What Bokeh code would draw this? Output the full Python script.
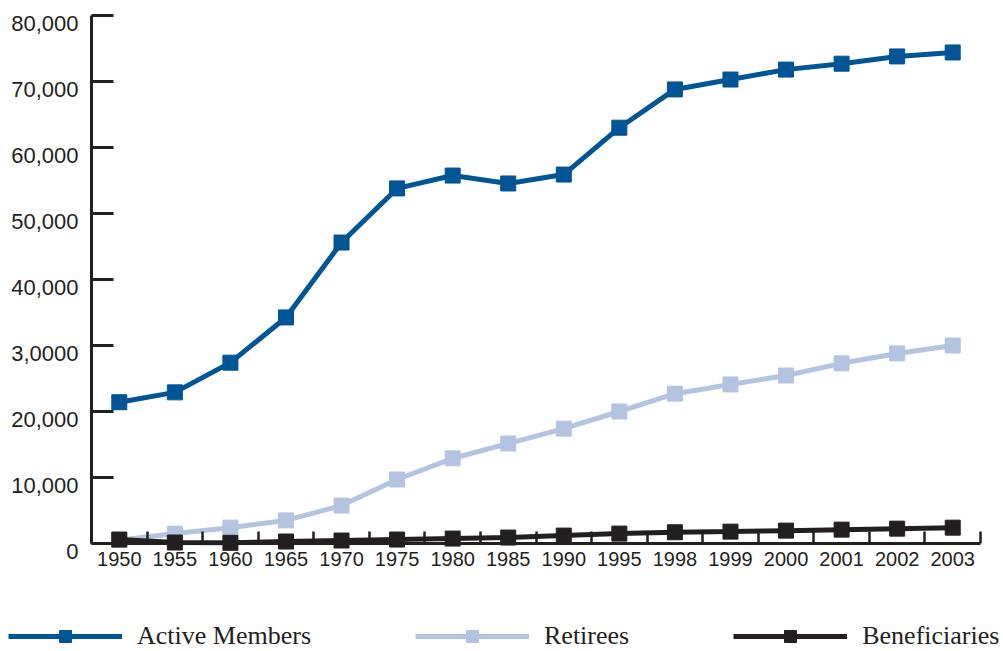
from bokeh.plotting import figure
from bokeh.models import FixedTicker, Legend, LegendItem, Range1d, LinearAxis
from bokeh.embed import file_html
from bokeh.resources import INLINE

# ---- data ----
years = ["1950", "1955", "1960", "1965", "1970", "1975", "1980", "1985",
         "1990", "1995", "1998", "1999", "2000", "2001", "2002", "2003"]
active_members = [21400, 22900, 27400, 34250, 45600, 53800, 55750, 54550,
                  55900, 63000, 68800, 70300, 71800, 72700, 73800, 74400]
retirees = [500, 1500, 2400, 3500, 5750, 9700, 12900, 15150,
            17400, 20000, 22700, 24100, 25450, 27300, 28800, 30000]
beneficiaries = [600, 150, 100, 300, 450, 600, 750, 900,
                 1200, 1500, 1700, 1800, 1950, 2100, 2250, 2400]
y_ticks = [0, 10000, 20000, 30000, 40000, 50000, 60000, 70000, 80000]
y_tick_labels = ["0", "10,000", "20,000", "3,0000", "40,000", "50,000",
                 "60,000", "70,000", "80,000"]
series_names = ["Active Members", "Retirees", "Beneficiaries"]
series_colors = ["#005596", "#b4c4e0", "#231f20"]

x = list(range(len(years)))
ink = "#231f20"

# ---- layout (pixels) ----
W, H = 1003, 651
ax_left, ax_right, ax_top, ax_bottom = 91, 980, 15, 543
label_drop = 8          # y tick labels sit slightly below their ticks
y_min, y_max = y_ticks[0], y_ticks[-1]
x_lo, x_hi = -0.5, len(years) - 0.5
ux = (ax_right - ax_left) / (x_hi - x_lo)      # px per category
uy = (ax_bottom - ax_top) / (y_max - y_min)    # px per unit value

y_start = y_min - (H - ax_bottom) / uy
y_end = y_max + ax_top / uy
p = figure(width=W, height=H, output_backend="svg", toolbar_location=None,
           x_range=Range1d(x_lo - ax_left / ux, x_hi + (W - ax_right) / ux),
           y_range=Range1d(y_start, y_end),
           min_border=0)
p.extra_y_ranges = {"ylabels": Range1d(y_start + label_drop / uy, y_end + label_drop / uy)}
p.outline_line_color = None
p.grid.visible = False
p.background_fill_color = "white"
p.border_fill_color = "white"

# x axis
xa = p.xaxis[0]
xa.fixed_location = y_min
xa.bounds = (x_lo, x_hi)
xa.ticker = FixedTicker(ticks=x, minor_ticks=[i - 0.5 for i in range(len(years) + 1)])
xa.major_label_overrides = {i: y for i, y in zip(x, years)}
xa.major_tick_in = 0
xa.major_tick_out = 0
xa.minor_tick_in = 12
xa.minor_tick_out = 0
xa.minor_tick_line_width = 2.5
xa.minor_tick_line_color = ink
xa.axis_line_width = 3
xa.axis_line_color = ink
xa.major_label_text_font = "Liberation Sans"
xa.major_label_text_font_size = "20px"
xa.major_label_text_color = ink
xa.major_label_standoff = 8

# y axis: line and ticks
ya = p.yaxis[0]
ya.fixed_location = x_lo
ya.bounds = (y_min, y_max)
ya.ticker = FixedTicker(ticks=y_ticks, minor_ticks=[])
ya.major_label_overrides = {t: "" for t in y_ticks}
ya.major_tick_in = 22
ya.major_tick_out = 0
ya.major_tick_line_width = 3
ya.major_tick_line_color = ink
ya.axis_line_width = 3
ya.axis_line_color = ink

# y axis: tick labels (same ticks, drawn a little lower)
yl = LinearAxis(y_range_name="ylabels", fixed_location=x_lo, bounds=(y_min, y_max),
                ticker=FixedTicker(ticks=y_ticks, minor_ticks=[]),
                major_label_overrides={t: l for t, l in zip(y_ticks, y_tick_labels)},
                axis_line_color=None, major_tick_line_color=None,
                minor_tick_line_color=None, major_tick_in=0, major_tick_out=0,
                major_label_text_font="Liberation Sans",
                major_label_text_font_size="22px",
                major_label_text_color=ink, major_label_standoff=13)
p.add_layout(yl, "left")

items = []
for name, vals, col in zip(series_names, [active_members, retirees, beneficiaries], series_colors):
    r1 = p.line(x, vals, line_color=col, line_width=5)
    r2 = p.scatter(x, vals, marker="square", size=15, fill_color=col, line_color=col)
    items.append(LegendItem(label=name, renderers=[r1, r2]))

legend = Legend(items=items, orientation="horizontal", location=(8, 0),
                glyph_width=114, glyph_height=30, label_standoff=15, spacing=104,
                padding=0, margin=0, border_line_color=None,
                background_fill_alpha=0,
                label_text_font="Liberation Serif", label_text_font_size="26px",
                label_text_color=ink)
p.add_layout(legend, "center")

open("out.html", "w").write(file_html(p, INLINE))
